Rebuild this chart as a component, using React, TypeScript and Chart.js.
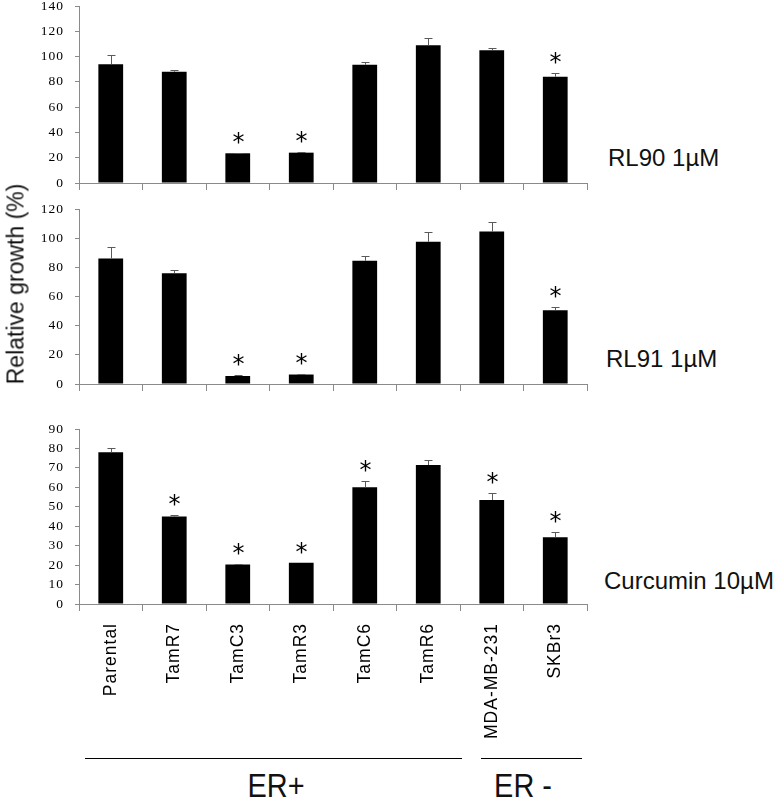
import React, { useEffect, useRef } from 'react';
import { Chart, registerables } from 'chart.js';
Chart.register(...registerables);

const categories = ['Parental', 'TamR7', 'TamC3', 'TamR3', 'TamC6', 'TamR6', 'MDA-MB-231', 'SKBr3'];

const rl90Values = [94, 88, 23.5, 24, 93.5, 109, 105, 84];
const rl90Errors = [7.5, 1.2, 0.5, 0.5, 2, 5.5, 2, 3];
const rl90Sig = [false, false, true, true, false, false, false, true];

const rl91Values = [86, 76, 5.5, 6.5, 84.5, 97.5, 104.5, 50.5];
const rl91Errors = [8, 2, 0.5, 0.5, 3, 6.5, 6.5, 2];
const rl91Sig = [false, false, true, true, false, false, false, true];

const curValues = [78, 45, 20.3, 21.2, 60, 71.5, 53.5, 34.3];
const curErrors = [2, 1, 0.4, 0, 3.5, 2.5, 3.5, 2.5];
const curSig = [false, true, true, true, true, false, true, true];

const panelTitles = ['RL90 1\u00b5M', 'RL91 1\u00b5M', 'Curcumin 10\u00b5M'];
const groupLabels = ['ER+', 'ER -'];

const AXIS = '#8a8a8a';
const SANS = '"Liberation Sans", Arial, sans-serif';

function zeroPad(s: any) {
  s.paddingTop = 0;
  s.paddingBottom = 0;
  s.paddingLeft = 0;
  s.paddingRight = 0;
}

function buildChart(
  canvas: HTMLCanvasElement,
  values: number[],
  errors: number[],
  sig: boolean[],
  yMax: number,
  yStep: number,
  padTop: number,
  xHeight: number,
  showLabels: boolean
) {
  const errPlugin = {
    id: 'errbars',
    beforeDraw(chart: any) {
      chart.ctx.letterSpacing = '1px';
    },
    afterDatasetsDraw(chart: any) {
      const ctx = chart.ctx;
      const meta = chart.getDatasetMeta(0);
      const y = chart.scales.y;
      ctx.save();
      ctx.letterSpacing = '0px';
      ctx.strokeStyle = '#5a5a5a';
      ctx.lineWidth = 1;
      meta.data.forEach((bar: any, i: number) => {
        const x = Math.round(bar.x) + 0.5;
        const yv = y.getPixelForValue(values[i]);
        const yt = Math.round(y.getPixelForValue(values[i] + errors[i])) + 0.5;
        if (errors[i] > 0) {
          ctx.beginPath();
          ctx.moveTo(x, yv);
          ctx.lineTo(x, yt);
          ctx.moveTo(x - 4, yt);
          ctx.lineTo(x + 4, yt);
          ctx.stroke();
        }
        if (sig[i]) {
          ctx.fillStyle = '#000';
          ctx.font = '24px "DejaVu Sans", sans-serif';
          ctx.textAlign = 'center';
          ctx.textBaseline = 'alphabetic';
          const m = ctx.measureText('*');
          const cy = yt - 16;
          const base = cy + (m.actualBoundingBoxAscent - m.actualBoundingBoxDescent) / 2;
          ctx.fillText('*', x, base);
        }
      });
      ctx.restore();
    },
  };

  return new Chart(canvas, {
    type: 'bar',
    data: {
      labels: categories,
      datasets: [
        {
          data: values,
          backgroundColor: '#000',
          borderWidth: 0,
          barPercentage: 0.39,
          categoryPercentage: 1,
        },
      ],
    },
    options: {
      animation: false,
      responsive: false,
      maintainAspectRatio: false,
      layout: { padding: { top: padTop, right: 13, left: 0, bottom: 0 } },
      plugins: { legend: { display: false }, tooltip: { enabled: false } },
      scales: {
        x: {
          grid: { offset: true, drawOnChartArea: false, drawTicks: true, tickLength: 7, color: AXIS },
          border: { color: AXIS },
          ticks: {
            display: showLabels,
            autoSkip: false,
            minRotation: 90,
            maxRotation: 90,
            padding: 12,
            color: '#000',
            font: { family: SANS, size: 17.5 },
          },
          afterFit: (s: any) => {
            s.height = xHeight;
            zeroPad(s);
          },
        },
        y: {
          min: 0,
          max: yMax,
          ticks: {
            stepSize: yStep,
            padding: 11,
            color: '#000',
            font: { family: '"Liberation Serif", serif', size: 13.5 },
          },
          grid: { drawOnChartArea: false, drawTicks: true, tickLength: 4, color: AXIS },
          border: { color: AXIS },
          afterFit: (s: any) => {
            s.width = 79;
            zeroPad(s);
          },
        },
      },
    },
    plugins: [errPlugin],
  } as any);
}

export default function App() {
  const c1 = useRef<HTMLCanvasElement>(null);
  const c2 = useRef<HTMLCanvasElement>(null);
  const c3 = useRef<HTMLCanvasElement>(null);

  useEffect(() => {
    const charts = [
      buildChart(c1.current!, rl90Values, rl90Errors, rl90Sig, 140, 20, 6, 17, false),
      buildChart(c2.current!, rl91Values, rl91Errors, rl91Sig, 120, 20, 14, 16, false),
      buildChart(c3.current!, curValues, curErrors, curSig, 90, 10, 29, 156, true),
    ];
    return () => charts.forEach((c) => c.destroy());
  }, []);

  const titleStyle: React.CSSProperties = {
    position: 'absolute',
    fontFamily: SANS,
    fontSize: 24,
    color: '#111',
    whiteSpace: 'nowrap',
    transform: 'translateY(-50%)',
    lineHeight: 1,
  };

  const groupStyle: React.CSSProperties = {
    position: 'absolute',
    top: 785,
    transform: 'translate(-50%, -50%) scaleX(0.85)',
    fontFamily: SANS,
    fontSize: 34,
    color: '#111',
    whiteSpace: 'nowrap',
    lineHeight: 1,
  };

  return (
    <div style={{ position: 'absolute', left: 0, top: 0, width: 780, height: 803, background: '#fff', overflow: 'hidden' }}>
      <canvas ref={c1} width={600} height={200} style={{ position: 'absolute', left: 0, top: 0 }} />
      <canvas ref={c2} width={600} height={205} style={{ position: 'absolute', left: 0, top: 195 }} />
      <canvas ref={c3} width={600} height={360} style={{ position: 'absolute', left: 0, top: 400 }} />

      <div
        style={{
          position: 'absolute',
          left: 16,
          top: 284,
          transform: 'translate(-50%, -50%) rotate(-90deg)',
          fontFamily: SANS,
          fontSize: 23,
          color: '#111',
          whiteSpace: 'nowrap',
          lineHeight: 1,
        }}
      >
        Relative growth (%)
      </div>

      <div style={{ ...titleStyle, left: 608, top: 158 }}>{panelTitles[0]}</div>
      <div style={{ ...titleStyle, left: 606, top: 359 }}>{panelTitles[1]}</div>
      <div style={{ ...titleStyle, left: 604, top: 581 }}>{panelTitles[2]}</div>

      <div style={{ position: 'absolute', left: 85, top: 758, width: 377, height: 0, borderTop: '1.5px solid #000' }} />
      <div style={{ position: 'absolute', left: 481, top: 758, width: 101, height: 0, borderTop: '1.5px solid #000' }} />

      <div style={{ ...groupStyle, left: 276 }}>{groupLabels[0]}</div>
      <div style={{ ...groupStyle, left: 523 }}>{groupLabels[1]}</div>
    </div>
  );
}
